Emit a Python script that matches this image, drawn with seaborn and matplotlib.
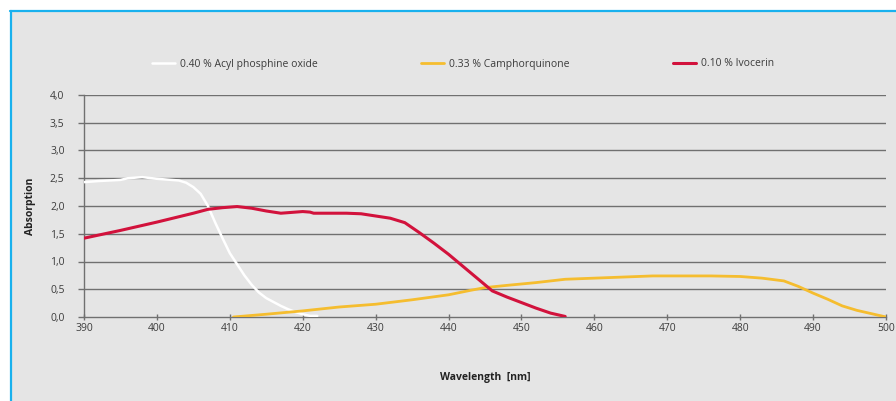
import numpy as np
import pandas as pd
import seaborn as sns
import matplotlib.pyplot as plt
from matplotlib.patches import Rectangle
from matplotlib.lines import Line2D

# spectra
apo_nm = [390, 392, 395, 396, 398, 400, 402, 403, 404, 405, 406, 407, 408, 409, 410,
          411, 412, 413, 414, 415, 416, 417, 418, 419, 420, 421, 422]
apo_abs = [2.43, 2.45, 2.47, 2.50, 2.52, 2.49, 2.47, 2.46, 2.42, 2.34, 2.22, 2.00, 1.70,
           1.42, 1.15, 0.95, 0.75, 0.58, 0.44, 0.34, 0.27, 0.20, 0.14, 0.09, 0.05, 0.02, 0.02]

cq_nm = [410.5, 415, 420, 425, 430, 435, 440, 443, 445, 448, 452, 456, 460, 464, 468,
         472, 476, 480, 483, 486, 488, 490, 492, 494, 496, 498, 500]
cq_abs = [0.0, 0.05, 0.11, 0.18, 0.23, 0.31, 0.40, 0.48, 0.53, 0.57, 0.62, 0.68, 0.70,
          0.72, 0.74, 0.74, 0.74, 0.73, 0.70, 0.65, 0.55, 0.43, 0.32, 0.20, 0.12, 0.06, 0.0]

ivo_nm = [390, 395, 400, 405, 407, 409, 411, 413, 415, 417, 419, 420, 421, 421.5, 426,
          428, 430, 432, 434, 436, 438, 440, 442, 444, 446, 448, 450, 452, 454, 456]
ivo_abs = [1.42, 1.56, 1.71, 1.87, 1.94, 1.97, 1.99, 1.96, 1.91, 1.87, 1.89, 1.90, 1.89,
           1.87, 1.87, 1.86, 1.82, 1.78, 1.70, 1.52, 1.33, 1.13, 0.91, 0.69, 0.47, 0.36,
           0.26, 0.16, 0.07, 0.01]

labels = ["0.40 % Acyl phosphine oxide", "0.33 % Camphorquinone", "0.10 % Ivocerin"]
colors = ["#ffffff", "#f5bd2f", "#d2123c"]
widths = [1.8, 2.0, 2.2]

x_ticks = list(range(390, 501, 10))
y_ticks = [0.0, 0.5, 1.0, 1.5, 2.0, 2.5, 3.0, 3.5, 4.0]
y_ticklabels = ["0,0", "0,5", "1,0", "1,5", "2,0", "2,5", "3,0", "3,5", "4,0"]

sns.set_style("white")
plt.rcParams['font.family'] = ['Open Sans', 'DejaVu Sans']

bg = "#e5e5e5"
grid_c = "#707070"
txt_c = "#3c3c3c"

fig = plt.figure(figsize=(8.96, 4.01), dpi=100, facecolor="white")
# grey panel with blue top/left rule
W, H = 896, 401
fig.patches.append(Rectangle((10 / W, 0), 1, 1 - 11 / H, transform=fig.transFigure,
                             facecolor=bg, edgecolor="none", zorder=-5))
fig.lines.append(Line2D([10 / W, 1], [1 - 11 / H, 1 - 11 / H], transform=fig.transFigure,
                        color="#19b1ee", lw=1.6))
fig.lines.append(Line2D([11 / W, 11 / W], [0, 1 - 11 / H], transform=fig.transFigure,
                        color="#19b1ee", lw=1.6))

ax = fig.add_axes([84 / W, 1 - 317 / H, 802 / W, 222 / H])
ax.set_facecolor(bg)

for xs, ys, lab, c, w in zip([apo_nm, cq_nm, ivo_nm], [apo_abs, cq_abs, ivo_abs],
                             labels, colors, widths):
    sns.lineplot(x=xs, y=ys, ax=ax, color=c, lw=w, label=lab, zorder=3)

ax.set_xlim(390, 500)
ax.set_ylim(0, 4.0)
ax.set_xticks(x_ticks)
ax.set_yticks(y_ticks)
ax.set_yticklabels(y_ticklabels)
for yv in y_ticks[1:]:
    ax.axhline(yv, color=grid_c, lw=1.0, zorder=1)

for s in ["top", "right"]:
    ax.spines[s].set_visible(False)
ax.spines["left"].set_color(grid_c)
ax.spines["bottom"].set_color(grid_c)
ax.spines["left"].set_linewidth(1.0)
ax.spines["bottom"].set_linewidth(1.0)

ax.tick_params(axis="y", direction="out", length=4, width=1, color=grid_c,
               labelsize=7.5, labelcolor=txt_c, pad=10)
ax.tick_params(axis="x", direction="inout", length=5, width=1, color=grid_c,
               labelsize=7.5, labelcolor=txt_c, pad=1.5)
ax.tick_params(left=True, bottom=True)

ax.set_xlabel("Wavelength  [nm]", fontsize=7.5, fontweight="bold", color="#222222",
              labelpad=28)
ax.set_ylabel("Absorption", fontsize=7.5, fontweight="bold", color="#222222",
              labelpad=10)

ax.legend(loc="center", bbox_to_anchor=(463 / W, 1 - 64 / H),
          bbox_transform=fig.transFigure, ncol=3, frameon=False, fontsize=7.5,
          handlelength=2.2, handletextpad=0.5, columnspacing=9.9, labelcolor=txt_c)

fig.savefig("out.png", dpi=100, facecolor="white")
